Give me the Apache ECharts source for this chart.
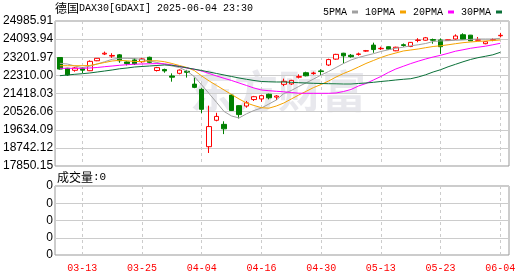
<!DOCTYPE html>
<html><head><meta charset="utf-8">
<script src="https://cdn.jsdelivr.net/npm/echarts@6/dist/echarts.min.js"></script>
<style>html,body{margin:0;padding:0;background:#fff}#c{width:530px;height:276px}</style>
</head><body><div id="c"></div>
<script>
const dates = ['03-10','03-11','03-12','03-13','03-14','03-17','03-18','03-19','03-20','03-21','03-24','03-25','03-26','03-27','03-28','03-31','04-01','04-02','04-03','04-04','04-07','04-08','04-09','04-10','04-11','04-14','04-15','04-16','04-17','04-22','04-23','04-24','04-25','04-28','04-29','04-30','05-02','05-05','05-06','05-07','05-08','05-09','05-12','05-13','05-14','05-15','05-16','05-19','05-20','05-21','05-22','05-23','05-26','05-27','05-28','05-29','05-30','06-02','06-03','06-04'];
const opens = [23190,22660,22560,22640,22540,23030,23360,23260,23320,22970,
  23070,22980,23200,22550,22600,22280,22410,22510,21880,21620,
  18800,20100,19900,21340,20820,20800,21120,21150,21380,21240,
  21870,21890,22220,22440,22400,22530,22820,23110,23400,23300,
  23340,23505,23800,23620,23720,23520,23820,23730,24030,24040,
  24070,24051,24030,24100,24310,24290,24040,23869,24050,24260];
const closes = [22620,22330,22676,22567,23000,23150,23400,23290,23030,22890,
  22880,23120,22950,22690,22530,22220,22570,22460,21720,20640,
  19790,20290,19680,20580,20380,20960,21260,21311,21206,21294,
  22020,22064,22250,22290,22426,22497,23087,23344,23270,23230,
  23365,23525,23580,23640,23600,23695,23780,23934,24050,24160,
  24040,23721,24060,24248,24090,24010,24060,23967,24066,24282];
const lows = [22590,22290,22490,22420,22520,23010,23310,23170,22930,22800,
  22820,22930,22900,22500,22440,22000,22360,22200,21680,20450,
  18490,20050,19420,20560,20190,20720,21050,21010,21130,21098,
  21780,21840,22160,22260,22340,22330,22770,23080,22900,23180,
  23280,23470,23420,23560,23560,23500,23720,23700,23940,24020,
  23870,23370,24030,24060,24080,24000,24030,23840,23990,24180];
const highs = [23210,22680,22720,22720,23050,23160,23480,23400,23360,23000,
  23160,23170,23230,22730,22640,22410,22600,22580,22200,21680,
  20820,20470,20050,21380,20840,21050,21300,21330,21410,21340,
  22150,22090,22360,22490,22490,22610,23130,23370,23420,23360,
  23430,23560,23920,23720,23740,23720,23880,23950,24140,24200,
  24120,24130,24070,24330,24380,24300,24200,23980,24130,24400];
const ma5 = [22904,22870,22772,22688,22762,22870,22983,23101,23150,23150,
  23140,23091,23018,22944,22855,22772,22698,22525,22255,21837,
  21409,20975,20532,20311,20212,20419,20582,20704,20901,21098,
  21418,21566,21763,21945,22132,22329,22501,22698,22895,23067,
  23190,23288,23377,23485,23569,23642,23697,23766,23815,23879,
  23977,24007,24017,24036,24051,24081,24100,24100,24100,24134];
const ma10 = [22786,22786,22786,22786,22796,22870,22944,23018,23052,23027,
  22993,22993,23027,23027,22983,22895,22796,22698,22550,22279,
  22033,21812,21590,21369,21148,20951,20828,20719,20695,20803,
  20951,21148,21344,21526,21713,21861,22033,22230,22402,22550,
  22722,22895,23042,23190,23313,23411,23510,23559,23608,23672,
  23731,23766,23815,23869,23918,23953,23982,24002,24026,24051];
const ma20 = [22658,22658,22658,22658,22673,22698,22737,22771,22806,22835,
  22860,22870,22880,22890,22880,22821,22747,22673,22614,22525,
  22402,22279,22166,22058,21935,21812,21689,21590,21556,21526,
  21502,21467,21433,21428,21428,21428,21428,21443,21517,21615,
  21787,21910,22083,22255,22452,22624,22757,22890,23008,23116,
  23214,23298,23396,23500,23569,23643,23697,23746,23815,23889];
const ma30 = [22294,22329,22363,22393,22427,22476,22525,22575,22634,22673,
  22722,22747,22772,22796,22821,22806,22747,22683,22614,22550,
  22476,22402,22329,22255,22181,22117,22058,22009,21994,21984,
  21984,21969,21950,21935,21920,21910,21900,21895,21886,21886,
  21910,21935,21969,22009,22043,22083,22117,22146,22230,22339,
  22476,22589,22732,22855,22978,23091,23180,23249,23322,23445];
const volumes = dates.map(() => 0);
const priceTicks = ['17850.15','18742.12','19634.09','20526.06','21418.03','22310.00','23201.97','24093.94','24985.91'];
const volTicks = ['0','0','0','0','0'];
const priceMin = 17850.15, priceMax = 24985.91;
const labelIdx = (i) => (i - 3) % 8 === 0;

const chart = echarts.init(document.getElementById('c'), null, {renderer: 'canvas'});
const mono = '"Liberation Mono", "DejaVu Sans Mono", monospace';
const cjk = '"Noto Sans CJK SC", sans-serif';
const candleData = dates.map((d, i) => [opens[i], closes[i], lows[i], highs[i]]);

chart.setOption({
  animation: false,
  backgroundColor: '#fff',
  legend: {
    data: ['5PMA', '10PMA', '20PMA', '30PMA'],
    left: 318, top: 2, align: 'right', itemWidth: 6, itemHeight: 3, itemGap: 7,
    icon: 'rect',
    textStyle: {fontFamily: mono, fontSize: 10, color: '#000'}
  },
  graphic: [
    {type: 'text', left: 190, top: 69, z: -1, silent: true,
     style: {text: '东方财富', fill: 'rgba(205,205,215,0.45)', font: 'bold 44px "Noto Sans CJK SC"'}},
    {type: 'text', left: 55, top: 2,
     style: {text: '{a|德国}{b|DAX30[GDAXI] 2025-06-04 23:30}',
       rich: {a: {fontFamily: cjk, fontSize: 12, fill: '#000', color: '#000'},
              b: {fontFamily: mono, fontSize: 10, fill: '#000', color: '#000'}}}},
    {type: 'text', left: 57, top: 171,
     style: {text: '{a|成交量}{b|:0}',
       rich: {a: {fontFamily: cjk, fontSize: 12, color: '#000'},
              b: {fontFamily: mono, fontSize: 11, color: '#000'}}}}
  ],
  grid: [
    {left: 55, top: 21, width: 454, height: 145, show: true, borderColor: '#999', borderWidth: 1},
    {left: 59.9, right: 29.7, top: 21, height: 145},
    {left: 55, top: 186, width: 454, height: 69, show: true, borderColor: '#999', borderWidth: 1},
    {left: 59.9, right: 29.7, top: 186, height: 69}
  ],
  xAxis: [
    {gridIndex: 0, type: 'value', min: 0, max: 1, show: false},
    {gridIndex: 1, type: 'category', data: dates, boundaryGap: false,
     axisLine: {show: false}, axisTick: {show: false}, axisLabel: {show: false},
     splitLine: {show: true, interval: labelIdx, lineStyle: {color: '#ccc', type: [3, 3]}}},
    {gridIndex: 2, type: 'value', min: 0, max: 1, show: false},
    {gridIndex: 3, type: 'category', data: dates, boundaryGap: false,
     axisLine: {show: false}, axisTick: {show: false},
     axisLabel: {show: true, interval: labelIdx, color: '#ff0000', fontFamily: mono, fontSize: 10, margin: 8},
     splitLine: {show: true, interval: labelIdx, lineStyle: {color: '#ccc', type: [3, 3]}}}
  ],
  yAxis: [
    {gridIndex: 0, type: 'value', min: 0, max: 8, interval: 1,
     axisLine: {show: false}, axisTick: {show: false},
     axisLabel: {formatter: (v) => priceTicks[v], color: '#000', fontFamily: '"Liberation Sans", Arial, sans-serif', fontSize: 12, margin: 2},
     splitLine: {show: true, lineStyle: {color: '#ccc'}}},
    {gridIndex: 1, type: 'value', min: priceMin, max: priceMax, show: false, splitLine: {show: false}},
    {gridIndex: 2, type: 'value', min: 0, max: 4, interval: 1,
     axisLine: {show: false}, axisTick: {show: false},
     axisLabel: {formatter: (v) => volTicks[v], color: '#000', fontFamily: '"Liberation Sans", Arial, sans-serif', fontSize: 12, margin: 2},
     splitLine: {show: true, lineStyle: {color: '#ccc'}}},
    {gridIndex: 3, type: 'value', min: 0, max: 1, show: false, splitLine: {show: false}}
  ],
  series: [
    {name: 'K', type: 'candlestick', xAxisIndex: 1, yAxisIndex: 1, data: candleData,
     barWidth: 5, clip: false,
     itemStyle: {color: '#ffffff', color0: '#008000', borderColor: '#ff0000', borderColor0: '#008000', borderWidth: 1}},
    {name: '5PMA', type: 'line', xAxisIndex: 1, yAxisIndex: 1, data: ma5, showSymbol: false, symbol: 'none',
     lineStyle: {color: '#a0a0a0', width: 1}, itemStyle: {color: '#a0a0a0'}},
    {name: '10PMA', type: 'line', xAxisIndex: 1, yAxisIndex: 1, data: ma10, showSymbol: false, symbol: 'none',
     lineStyle: {color: '#f5a300', width: 1}, itemStyle: {color: '#f5a300'}},
    {name: '20PMA', type: 'line', xAxisIndex: 1, yAxisIndex: 1, data: ma20, showSymbol: false, symbol: 'none',
     lineStyle: {color: '#ff00ff', width: 1}, itemStyle: {color: '#ff00ff'}},
    {name: '30PMA', type: 'line', xAxisIndex: 1, yAxisIndex: 1, data: ma30, showSymbol: false, symbol: 'none',
     lineStyle: {color: '#0a7038', width: 1}, itemStyle: {color: '#0a7038'}},
    {name: 'VOL', type: 'bar', xAxisIndex: 3, yAxisIndex: 3, data: volumes, barWidth: 5,
     itemStyle: {color: '#008000'}}
  ]
});
</script></body></html>
